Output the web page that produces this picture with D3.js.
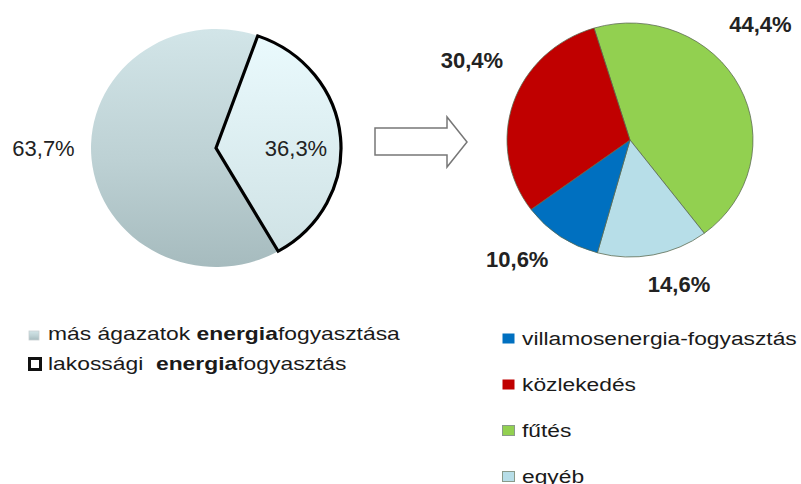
<!DOCTYPE html>
<html>
<head>
<meta charset="utf-8">
<script src="https://cdn.jsdelivr.net/npm/d3@7"></script>
<style>
  body { margin: 0; background: #fff; }
  text { font-family: "Liberation Sans", Arial, sans-serif; fill: #222; }
</style>
</head>
<body>
<svg id="chart" width="801" height="484"></svg>
<script>
// data
var leftNames = ["lakossági energiafogyasztás", "más ágazatok energiafogyasztása"];
var leftValues = [36.3, 63.7];
var leftText = ["36,3%", "63,7%"];

var rightNames = ["fűtés", "egyéb", "villamosenergia-fogyasztás", "közlekedés"];
var rightValues = [44.4, 14.6, 10.6, 30.4];
var rightText = ["44,4%", "14,6%", "10,6%", "30,4%"];
var rightColors = ["#92d050", "#b7dee8", "#0070c0", "#c00000"];
var legendOrder = [2, 3, 0, 1];

// layout: label angle (deg) and radius factor
var leftLabelPos = [[90, 0.64], [270, 1.38]];
var rightLabelPos = [[47, 1.45], [162, 1.29], [222, 1.37], [298, 1.455]];

var svg = d3.select("#chart");
var defs = svg.append("defs");

var g1 = defs.append("linearGradient").attr("id", "gMain").attr("x1", 0).attr("y1", 0).attr("x2", 0).attr("y2", 1);
g1.append("stop").attr("offset", "0%").attr("stop-color", "#d2e5e8");
g1.append("stop").attr("offset", "55%").attr("stop-color", "#bdd1d4");
g1.append("stop").attr("offset", "100%").attr("stop-color", "#a6bbbe");
var g2 = defs.append("linearGradient").attr("id", "gLak").attr("x1", 0).attr("y1", 0).attr("x2", 0).attr("y2", 1);
g2.append("stop").attr("offset", "0%").attr("stop-color", "#eafafd");
g2.append("stop").attr("offset", "100%").attr("stop-color", "#cfe2e5");

var rad = Math.PI / 180;

function placeLabel(cx, cy, rx, ry, pos) {
    var a = pos[0] * rad, r = pos[1];
    return [cx + rx * r * Math.sin(a), cy - ry * r * Math.cos(a)];
}

// left pie
var L = {cx: 216, cy: 148, rx: 125, ry: 119};
var leftPie = d3.pie().sort(null).startAngle(19.5 * rad).endAngle(379.5 * rad)(leftValues);
var leftArc = d3.arc().innerRadius(0).outerRadius(L.rx);
var lg = svg.append("g").attr("transform", "translate(" + L.cx + "," + L.cy + ") scale(1," + (L.ry / L.rx) + ")");
lg.selectAll("path").data(leftPie).enter().append("path")
    .attr("d", leftArc)
    .attr("fill", function(d, i) { return i == 0 ? "url(#gLak)" : "url(#gMain)"; })
    .attr("stroke", function(d, i) { return i == 0 ? "#000" : "none"; })
    .attr("stroke-width", 3.2)
    .attr("stroke-linejoin", "miter");
// draw the outlined slice on top
lg.select("path").raise();

svg.selectAll(".lLabel").data(leftText).enter().append("text")
    .attr("class", "lLabel")
    .attr("x", function(d, i) { return placeLabel(L.cx, L.cy, L.rx, L.ry, leftLabelPos[i])[0]; })
    .attr("y", function(d, i) { return placeLabel(L.cx, L.cy, L.rx, L.ry, leftLabelPos[i])[1] + 8; })
    .attr("text-anchor", "middle")
    .attr("font-size", 22)
    .text(function(d) { return d; });

// arrow
svg.append("path")
    .attr("d", "M375,128 L447,128 L447,117 L467,142 L447,167 L447,155 L375,155 Z")
    .attr("fill", "#fff")
    .attr("stroke", "#777")
    .attr("stroke-width", 1.5);

// right pie
var R = {cx: 630, cy: 140, rx: 123, ry: 117};
var rightPie = d3.pie().sort(null).startAngle(-17 * rad).endAngle(343 * rad)(rightValues);
var rightArc = d3.arc().innerRadius(0).outerRadius(R.rx);
var rg = svg.append("g").attr("transform", "translate(" + R.cx + "," + R.cy + ") scale(1," + (R.ry / R.rx) + ")");
rg.selectAll("path").data(rightPie).enter().append("path")
    .attr("d", rightArc)
    .attr("fill", function(d, i) { return rightColors[i]; })
    .attr("stroke", "#5a6a50")
    .attr("stroke-width", 0.8);

svg.selectAll(".rLabel").data(rightText).enter().append("text")
    .attr("class", "rLabel")
    .attr("x", function(d, i) { return placeLabel(R.cx, R.cy, R.rx, R.ry, rightLabelPos[i])[0]; })
    .attr("y", function(d, i) { return placeLabel(R.cx, R.cy, R.rx, R.ry, rightLabelPos[i])[1] + 8; })
    .attr("text-anchor", "middle")
    .attr("font-size", 22)
    .attr("font-weight", "bold")
    .text(function(d) { return d; });

// left legend (text in the source is drawn wide)
var ll = svg.append("g").attr("transform", "translate(28,0)");
ll.append("rect").attr("x", 1).attr("y", 331).attr("width", 10).attr("height", 9)
    .attr("fill", "url(#gMain)").attr("stroke", "#c8d0d2").attr("stroke-width", 0.8);
ll.append("rect").attr("x", 1.5).attr("y", 358.5).attr("width", 11).attr("height", 11)
    .attr("fill", "#fff").attr("stroke", "#111").attr("stroke-width", 3);

var t1 = ll.append("text").attr("transform", "translate(20,340) scale(1.27,1)")
    .attr("font-size", 18).style("fill", "#1a1a1a").style("white-space", "pre");
t1.append("tspan").text("más ágazatok ");
t1.append("tspan").attr("font-weight", "bold").text("energia");
t1.append("tspan").text("fogyasztása");
var t2 = ll.append("text").attr("transform", "translate(20,370) scale(1.27,1)")
    .attr("font-size", 18).style("fill", "#1a1a1a").style("white-space", "pre");
t2.append("tspan").text("lakossági  ");
t2.append("tspan").attr("font-weight", "bold").text("energia");
t2.append("tspan").text("fogyasztás");

// right legend
var rl = svg.append("g").attr("transform", "translate(502,345)");
var rows = rl.selectAll("g").data(legendOrder).enter().append("g")
    .attr("transform", function(d, i) { return "translate(0," + (i * 46) + ")"; });
rows.append("rect")
    .attr("x", 0.5).attr("y", -11.5).attr("width", 12).attr("height", 10)
    .attr("fill", function(d) { return rightColors[d]; })
    .attr("stroke", function(d) { return d == 0 || d == 1 ? "#8a9a8a" : "none"; })
    .attr("stroke-width", 1);
rows.append("text")
    .attr("transform", "translate(20,0) scale(1.2,1)")
    .attr("font-size", 19)
    .style("fill", "#1a1a1a")
    .text(function(d) { return rightNames[d]; });
</script>
</body>
</html>
